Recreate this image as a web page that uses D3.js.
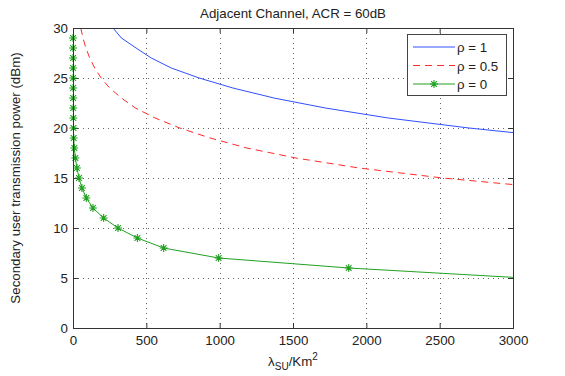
<!DOCTYPE html>
<html>
<head>
<meta charset="utf-8">
<script src="https://cdn.jsdelivr.net/npm/d3@7"></script>
<style>
  body { margin: 0; background: #fff; }
  text { font-family: "Liberation Sans", Arial, sans-serif; fill: #222; }
</style>
</head>
<body>
<svg id="chart" width="565" height="376"></svg>
<script>
"use strict";

// tick labels
var xTicks = [0, 500, 1000, 1500, 2000, 2500, 3000];
var yTicks = [0, 5, 10, 15, 20, 25, 30];

// each curve: density (x) reached at each integer power level (y, dBm)
var rho1Power = [30, 29, 28, 27, 26, 25, 24, 23, 22, 21, 20, 19];
var rho1Density = [273, 330, 430, 534, 670, 860, 1090, 1370, 1720, 2150, 2700, 3350];

var rho05Power = [30, 29, 28, 27, 26, 25, 24, 23, 22, 21, 20, 19, 18, 17, 16, 15, 14];
var rho05Density = [53, 68, 88, 114, 148, 192, 250, 330, 425, 560, 728, 935, 1185, 1520, 1950, 2520, 3250];

var rho0Power = [29, 28, 27, 26, 25, 24, 23, 22, 21, 20, 19, 18, 17, 16, 15, 14, 13, 12, 11, 10, 9, 8, 7, 6, 5];
var rho0Density = [0.2, 0.3, 0.4, 0.5, 0.7, 0.9, 1.2, 1.6, 2.2, 3, 4.5, 9, 16, 27, 41, 61, 91, 136, 209, 307, 439, 618, 993, 1880, 3080];

var legendLabels = ["\u03c1 = 1", "\u03c1 = 0.5", "\u03c1 = 0"];

var series = [
    {name: legendLabels[0], xs: rho1Density, ys: rho1Power, color: "#3050ff", dash: null, marker: false},
    {name: legendLabels[1], xs: rho05Density, ys: rho05Power, color: "#ff2a2a", dash: "7,5", marker: false},
    {name: legendLabels[2], xs: rho0Density, ys: rho0Power, color: "#22a022", dash: null, marker: true}
];

var fontSize = "13.3px";
var svg = d3.select("#chart");
var padL = 73, padR = 513, padT = 28, padB = 328;

var x = d3.scaleLinear().domain([0, 3000]).range([padL, padR]);
var y = d3.scaleLinear().domain([0, 30]).range([padB, padT]);

svg.append("defs").append("clipPath").attr("id", "plotclip")
   .append("rect")
   .attr("x", padL).attr("y", padT)
   .attr("width", padR - padL).attr("height", padB - padT);

// dotted grid
var grid = svg.append("g").attr("stroke", "#666").attr("stroke-width", 1)
              .attr("stroke-dasharray", "1,4");
grid.selectAll(".gx").data(xTicks.slice(1, -1)).enter().append("line")
    .attr("x1", function(d) { return Math.round(x(d)) + 0.5; })
    .attr("x2", function(d) { return Math.round(x(d)) + 0.5; })
    .attr("y1", padT).attr("y2", padB);
grid.selectAll(".gy").data(yTicks.slice(1, -1)).enter().append("line")
    .attr("y1", function(d) { return Math.round(y(d)) + 0.5; })
    .attr("y2", function(d) { return Math.round(y(d)) + 0.5; })
    .attr("x1", padL).attr("x2", padR);

// axes, MATLAB style: ticks inward on all sides
function styleAxis(g) {
    g.select(".domain").remove();
    g.selectAll(".tick line").attr("stroke", "#333");
    g.selectAll(".tick text").attr("font-size", fontSize)
     .attr("font-family", "Liberation Sans, Arial, sans-serif").attr("fill", "#222");
}
svg.append("g").attr("transform", "translate(0," + padB + ")")
   .call(d3.axisBottom(x).tickValues(xTicks).tickSize(-5).tickPadding(7.5).tickFormat(d3.format("d")))
   .call(styleAxis);
svg.append("g").attr("transform", "translate(0," + padT + ")")
   .call(d3.axisTop(x).tickValues(xTicks).tickSize(-5).tickFormat(""))
   .call(styleAxis);
svg.append("g").attr("transform", "translate(" + padL + ",0)")
   .call(d3.axisLeft(y).tickValues(yTicks).tickSize(-5).tickPadding(5))
   .call(styleAxis);
svg.append("g").attr("transform", "translate(" + padR + ",0)")
   .call(d3.axisRight(y).tickValues(yTicks).tickSize(-5).tickFormat(""))
   .call(styleAxis);

// curves
var line = d3.line()
    .x(function(d) { return x(d[0]); })
    .y(function(d) { return y(d[1]); });

function asterisk(cx, cy, r) {
    var k = r * 0.72;
    return "M" + (cx - r) + "," + cy + "H" + (cx + r) +
           "M" + cx + "," + (cy - r) + "V" + (cy + r) +
           "M" + (cx - k) + "," + (cy - k) + "L" + (cx + k) + "," + (cy + k) +
           "M" + (cx - k) + "," + (cy + k) + "L" + (cx + k) + "," + (cy - k);
}

var plot = svg.append("g");
series.forEach(function(s) {
    var pts = s.xs.map(function(v, i) { return [v, s.ys[i]]; });
    plot.append("path")
        .attr("clip-path", "url(#plotclip)")
        .attr("d", line(pts))
        .attr("fill", "none")
        .attr("stroke", s.color)
        .attr("stroke-width", 1)
        .attr("stroke-dasharray", s.dash);
    if (s.marker) {
        var inside = pts.filter(function(p) { return p[0] <= 3000; });
        plot.selectAll(".mk").data(inside).enter().append("path")
            .attr("d", function(d) { return asterisk(x(d[0]), y(d[1]), 4); })
            .attr("stroke", s.color).attr("stroke-width", 1.1).attr("fill", "none");
    }
});

// axes box
svg.append("rect")
   .attr("x", padL + 0.5).attr("y", padT + 0.5)
   .attr("width", padR - padL).attr("height", padB - padT)
   .attr("fill", "none").attr("stroke", "#333").attr("stroke-width", 1);

// legend
var lg = svg.append("g").attr("transform", "translate(407,34)");
lg.append("rect").attr("x", 0.5).attr("y", 0.5).attr("width", 99).attr("height", 61)
  .attr("fill", "#fff").attr("stroke", "#444").attr("stroke-width", 1);
series.forEach(function(s, i) {
    var ly = 13 + i * 18.5;
    lg.append("line").attr("x1", 6).attr("x2", 48).attr("y1", ly).attr("y2", ly)
      .attr("stroke", s.color).attr("stroke-width", 1).attr("stroke-dasharray", s.dash);
    if (s.marker) {
        lg.append("path").attr("d", asterisk(27, ly, 4))
          .attr("stroke", s.color).attr("stroke-width", 1.1).attr("fill", "none");
    }
    lg.append("text").attr("x", 50).attr("y", ly + 5).attr("font-size", fontSize).text(s.name);
});

// titles
svg.append("text").attr("x", (padL + padR) / 2).attr("y", 18)
   .attr("text-anchor", "middle").attr("font-size", fontSize)
   .text("Adjacent Channel, ACR = 60dB");

svg.append("text")
   .attr("transform", "translate(20," + ((padT + padB) / 2) + ") rotate(-90)")
   .attr("text-anchor", "middle").attr("font-size", fontSize)
   .text("Secondary user transmission power (dBm)");

var xl = svg.append("text").attr("x", (padL + padR) / 2).attr("y", 366)
            .attr("text-anchor", "middle").attr("font-size", fontSize);
xl.append("tspan").text("\u03bb");
xl.append("tspan").attr("dy", 4).attr("font-size", "10px").text("SU");
xl.append("tspan").attr("dy", -4).text("/Km");
xl.append("tspan").attr("dy", -6).attr("font-size", "10px").text("2");
</script>
</body>
</html>
